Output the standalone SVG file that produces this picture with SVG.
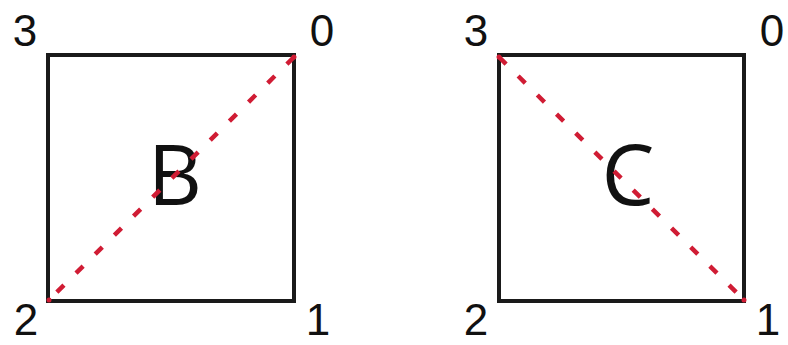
<svg xmlns="http://www.w3.org/2000/svg" width="788" height="345" viewBox="0 0 788 345">
<style>
.sq{fill:none;stroke:#1a1a1a;stroke-width:4}
.diag{stroke:#d01c34;stroke-width:4.5;stroke-dasharray:10 17;stroke-linecap:butt}
.lbl{font-family:"Liberation Sans",Arial,sans-serif;font-size:44px;fill:#111;text-anchor:middle}
.big{font-family:"Open Sans","Noto Sans",sans-serif;font-size:84px;fill:#111;text-anchor:middle}
</style>
<rect width="788" height="345" fill="#fff"/>
<g id="squareB">
<rect class="sq" x="48" y="55" width="246" height="246"/>
<text class="big" x="175" y="205">B</text>
<text class="lbl" x="25" y="46">3</text>
<text class="lbl" x="322" y="46">0</text>
<text class="lbl" x="26" y="335">2</text>
<text class="lbl" x="318" y="335">1</text>
</g>
<g id="squareC">
<rect class="sq" x="499" y="55" width="245" height="246"/>
<text class="big" x="628" y="205">C</text>
<text class="lbl" x="476" y="46">3</text>
<text class="lbl" x="772" y="46">0</text>
<text class="lbl" x="476" y="335">2</text>
<text class="lbl" x="768" y="335">1</text>
</g>
<g id="connectors">
<line class="diag" x1="294" y1="57" x2="49" y2="300"/>
<line class="diag" x1="499" y1="57" x2="744" y2="300"/>
<circle cx="294" cy="57" r="2.5" fill="#d01c34"/>
<circle cx="49" cy="300" r="2.5" fill="#d01c34"/>
<circle cx="499" cy="57" r="2.5" fill="#d01c34"/>
<circle cx="744" cy="300" r="2.5" fill="#d01c34"/>
</g>
</svg>
